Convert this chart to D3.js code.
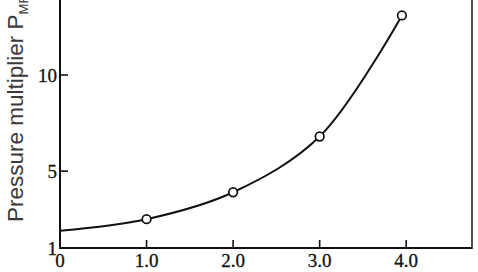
<!DOCTYPE html>
<html><head>
<meta charset="UTF-8">
<script src="https://cdn.jsdelivr.net/npm/d3@7"></script>
<style>
body{margin:0;background:#fff;}
.tl{font-family:"Liberation Serif","DejaVu Serif",serif;font-size:19px;fill:#111;stroke:#111;stroke-width:0.3;}
.ylab{font-family:"Liberation Sans",Arial,sans-serif;font-size:22.5px;fill:#3a3a3a;}
</style>
</head><body>
<svg id="chart" width="478" height="272"></svg>
<script>
// curve through the measured points (x = 0 is where the line meets the axis)
var curveX = [0, 1.0, 2.0, 3.0, 3.95];
var curveY = [1.9, 2.5, 3.9, 6.8, 13.1];
// open circles
var markX = [1.0, 2.0, 3.0, 3.95];
var markY = [2.5, 3.9, 6.8, 13.1];
var xTicks = [1, 2, 3, 4];
var xLabels = ["0", "1.0", "2.0", "3.0", "4.0"];
var xLabelPos = [0, 1, 2, 3, 4];
var yTicks = [1, 5, 10];
var yLabels = ["1", "5", "10"];

var svg = d3.select("#chart");
var x = d3.scaleLinear().domain([0, 4.76]).range([60, 472]);
var y = d3.scaleLinear().domain([1, 10]).range([248, 75]);

// frame: left axis, bottom axis, right border
svg.append("line").attr("x1", x(0)).attr("x2", x(0)).attr("y1", 0).attr("y2", y(1) + 1)
  .attr("stroke", "#111").attr("stroke-width", 2);
svg.append("line").attr("x1", x(0)).attr("x2", x(4.76)).attr("y1", y(1)).attr("y2", y(1))
  .attr("stroke", "#111").attr("stroke-width", 2);
svg.append("line").attr("x1", x(4.76)).attr("x2", x(4.76)).attr("y1", 0).attr("y2", y(1) + 1)
  .attr("stroke", "#222").attr("stroke-width", 1.6);

// tick marks point inward
svg.selectAll(".xt").data(xTicks).enter().append("line")
  .attr("x1", d => x(d)).attr("x2", d => x(d)).attr("y1", y(1)).attr("y2", y(1) - 8)
  .attr("stroke", "#111").attr("stroke-width", 1.6);
svg.selectAll(".yt").data(yTicks.slice(1)).enter().append("line")
  .attr("x1", x(0)).attr("x2", x(0) + 8).attr("y1", d => y(d)).attr("y2", d => y(d))
  .attr("stroke", "#111").attr("stroke-width", 1.6);

svg.selectAll(".xl").data(xLabels).enter().append("text").attr("class", "tl")
  .attr("x", (d, i) => x(xLabelPos[i])).attr("y", 267).attr("text-anchor", "middle")
  .text(d => d);
svg.selectAll(".yl").data(yLabels).enter().append("text").attr("class", "tl")
  .attr("x", 57).attr("y", (d, i) => y(yTicks[i]) + 7).attr("text-anchor", "end")
  .text(d => d);

// y axis title
var yt = svg.append("text").attr("class", "ylab")
  .attr("transform", "translate(23,222) rotate(-90)");
yt.append("tspan").text("Pressure multiplier P");
yt.append("tspan").attr("font-size", "13px").attr("dy", 5).text("MF");

var pts = curveX.map((d, i) => [x(d), y(curveY[i])]);
svg.append("path").attr("d", d3.line().curve(d3.curveCatmullRom)(pts))
  .attr("fill", "none").attr("stroke", "#111").attr("stroke-width", 2);

svg.selectAll(".pt").data(markX).enter().append("circle")
  .attr("cx", d => x(d)).attr("cy", (d, i) => y(markY[i])).attr("r", 4.3)
  .attr("fill", "#fff").attr("stroke", "#111").attr("stroke-width", 1.7);
</script>
</body></html>
